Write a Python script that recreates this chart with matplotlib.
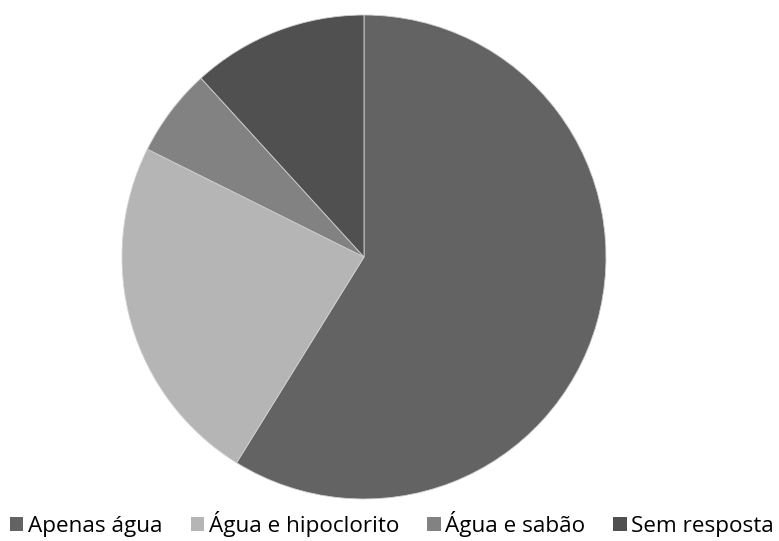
import matplotlib.pyplot as plt
from matplotlib.patches import Patch

labels = ['Apenas água', 'Água e hipoclorito', 'Água e sabão', 'Sem resposta']
counts = [10, 4, 1, 2]
colors = ['#636363', '#b5b5b5', '#828282', '#505050']

plt.rcParams['font.family'] = ['Open Sans', 'DejaVu Sans']

fig = plt.figure(figsize=(7.79, 5.41), dpi=100)
ax = fig.add_axes([122 / 779, 42 / 541, 484 / 779, 484 / 541])
ax.pie(counts, colors=colors, startangle=90, counterclock=False,
       wedgeprops=dict(edgecolor='#d0d0d0', linewidth=0.6))
ax.set_aspect('equal')
ax.set_xlim(-1, 1)
ax.set_ylim(-1, 1)

handles = [Patch(facecolor=c, edgecolor='none') for c in colors]
fig.legend(handles, labels, loc='center', bbox_to_anchor=(392 / 779, 1 - 524 / 541),
           ncol=4, frameon=False, fontsize=16.2, handlelength=0.6, handleheight=0.6,
           handletextpad=0.2, columnspacing=1.25, borderaxespad=0)

fig.savefig('out.png', dpi=100)
